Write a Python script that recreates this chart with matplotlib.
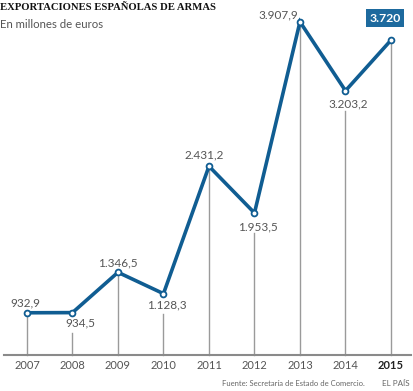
import numpy as np
import matplotlib.pyplot as plt

plt.rcParams['font.family'] = ['Lato', 'DejaVu Sans']

years = [2007, 2008, 2009, 2010, 2011, 2012, 2013, 2014, 2015]
valores = [932.9, 934.5, 1346.5, 1128.3, 2431.2, 1953.5, 3907.9, 3203.2, 3720.0]
etiquetas = ['932,9', '934,5', '1.346,5', '1.128,3', '2.431,2', '1.953,5',
             '3.907,9', '3.203,2', '3.720']
# desplazamiento de cada etiqueta respecto al punto (pixeles)
offsets = [(-2, 10), (8, -10), (0, 9), (3, -11), (-5, 11), (3, -14),
           (-22, 7), (3, -13), (-6, 22)]

azul = '#105d92'
gris = '#9a9a9a'
texto = '#555555'

fig = plt.figure(figsize=(4.14, 3.91), dpi=100)
ax = fig.add_axes([0, 0, 1, 1])
ax.set_xlim(2006.407, 2015.506)
ax.set_ylim(133, 4131)
ax.axis('off')

base = 501
px = (4131 - 133) / 391  # unidades por pixel en y

# lineas verticales grises
for x, v, (dx, dy) in zip(years, valores, offsets):
    top = v if dy > 0 else v - 20 * px
    ax.plot([x, x], [base, top], color=gris, lw=1.0, zorder=1)

# linea base
ax.plot([2006.5, 2015.45], [base, base], color='#8a8a8a', lw=1.5, zorder=1)

ax.plot(years, valores, color=azul, lw=2.6, zorder=3, solid_joinstyle='miter')
ax.plot(years, valores, 'o', ms=4.2, mfc='white', mec=azul, mew=1.3, zorder=4)

for x, v, lab, (dx, dy) in zip(years, valores, etiquetas, offsets):
    if x == 2015:
        ax.annotate(lab, (x, v), xytext=(dx, dy), textcoords='offset pixels',
                    ha='center', va='center', fontsize=8.8, fontweight='bold',
                    color='white',
                    bbox=dict(boxstyle='square,pad=0.3', fc='#1d6a9e', ec='none'))
    else:
        ax.annotate(lab, (x, v), xytext=(dx, dy), textcoords='offset pixels',
                    ha='center', va='center', fontsize=8.5, color=texto)

for x in years:
    ax.text(x, base - 10 * px, str(x), ha='center', va='center', fontsize=8,
            color=texto if x != 2015 else '#222222',
            fontweight='bold' if x == 2015 else 'normal')

fig.text(0.0, 1 - 8 / 391, 'EXPORTACIONES ESPAÑOLAS DE ARMAS', ha='left', va='center',
         fontsize=7.7, fontweight='bold', family='Liberation Serif', color='#111111')
fig.text(0.0, 1 - 24 / 391, 'En millones de euros', ha='left', va='center',
         fontsize=8.2, color='#555555')
fig.text(222 / 414, 1 - 384 / 391, 'Fuente: Secretaría de Estado de Comercio.',
         ha='left', va='center', fontsize=5.5, color='#666666')
fig.text(410 / 414, 1 - 384 / 391, 'EL PAÍS', ha='right', va='center',
         fontsize=5.8, color='#666666')

fig.savefig('out.png', dpi=100)
